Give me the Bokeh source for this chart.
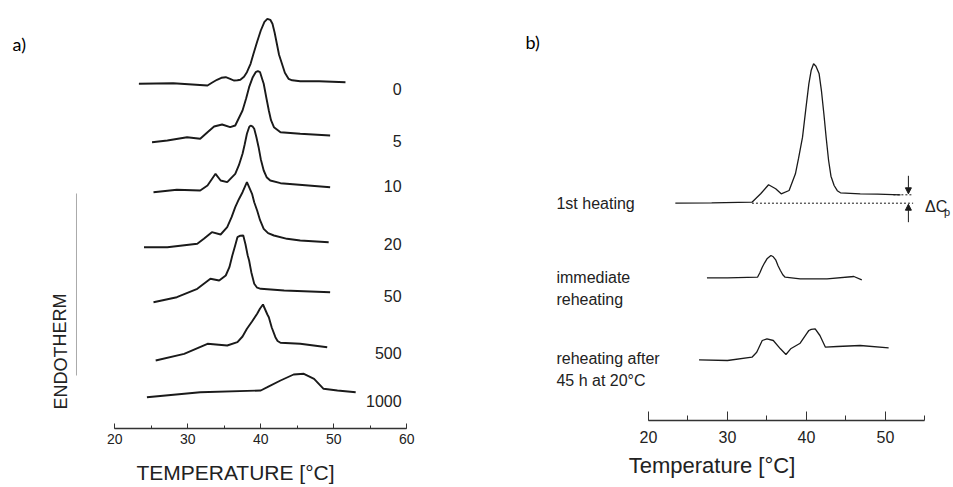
from bokeh.plotting import figure
from bokeh.models import Range1d, Label, Arrow, NormalHead, SingleIntervalTicker
from bokeh.layouts import row
from bokeh.embed import file_html
from bokeh.resources import INLINE

# ---------------- panel a data (DSC traces, storage time labels) ----------------
a_names = ["0", "5", "10", "20", "50", "500", "1000"]
a_offsets = [344.7, 286.3, 236.3, 181.3, 126.3, 68.0, 31.3]
a_label_y = [339.5, 288.0, 243.0, 185.0, 133.0, 76.0, 28.0]

a_T0 = [23.3, 28.0, 32.7, 33.3, 34.0, 34.6, 35.2, 35.8, 36.3, 36.8, 37.2, 37.7, 38.1, 38.6, 39.0, 39.5,
        40.0, 40.5, 40.9, 41.3, 41.6, 41.9, 42.2, 42.5, 42.9, 43.3, 43.8, 44.3, 45.4, 48.0, 51.6]
a_S0 = [0, 0.5, -1.7, 1.0, 4.0, 6.0, 6.6, 5.0, 3.3, 3.5, 4.0, 7.0, 11.6, 20.0, 30.0, 42.0,
        53.3, 62.0, 65.0, 64.0, 60.0, 51.0, 40.0, 29.0, 20.0, 11.0, 5.0, 3.5, 2.6, 2.5, 1.6]

a_T5 = [25.1, 27.2, 29.9, 31.7, 32.7, 33.6, 34.7, 35.8, 36.5, 37.5, 38.0, 38.4, 38.9, 39.3, 39.6, 39.9,
        40.2, 40.4, 40.8, 41.1, 41.4, 41.8, 42.7, 45.4, 49.5]
a_S5 = [0, 1.7, 5.0, 3.4, 10.0, 15.7, 17.7, 15.0, 16.7, 31.7, 44.0, 55.0, 65.0, 70.0, 71.0, 70.0,
        63.0, 58.4, 43.0, 31.7, 22.0, 15.0, 10.0, 8.4, 6.7]

a_T10 = [25.3, 28.5, 31.7, 32.7, 33.8, 34.5, 35.4, 36.5, 37.0, 37.5, 37.8, 38.1, 38.4, 38.6, 38.9, 39.1,
         39.4, 39.7, 40.0, 40.4, 40.8, 41.3, 42.7, 49.5]
a_S10 = [0, 2.4, 1.7, 6.7, 18.4, 11.7, 10.0, 18.4, 27.0, 38.4, 48.0, 58.4, 65.0, 66.7, 65.5, 63.4,
         55.0, 45.0, 33.0, 21.7, 15.0, 11.7, 9.0, 5.0]

a_T20 = [24.0, 27.2, 31.3, 32.2, 33.3, 34.5, 35.4, 36.0, 36.5, 37.0, 37.5, 37.8, 38.1, 38.4, 38.8, 39.1,
         39.5, 39.9, 40.4, 41.0, 41.8, 43.6, 45.4, 49.3]
a_S20 = [0, 0, 3.4, 8.4, 15.0, 12.7, 20.0, 30.0, 40.0, 48.0, 55.0, 60.0, 65.0, 60.0, 53.4, 45.0,
         36.7, 27.0, 18.4, 14.0, 11.7, 8.4, 6.7, 5.0]

a_T50 = [25.3, 28.5, 31.3, 33.1, 34.3, 35.2, 35.7, 36.1, 36.5, 36.8, 37.2, 37.6, 37.9, 38.2, 38.4, 38.7,
         39.1, 39.5, 40.0, 43.2, 49.5]
a_S50 = [0, 5.0, 13.4, 23.4, 21.7, 26.7, 35.0, 46.7, 57.0, 65.0, 66.5, 66.7, 58.0, 47.0, 41.7, 30.0,
         18.4, 14.5, 13.4, 11.7, 10.0]

a_T500 = [25.6, 29.5, 32.7, 35.4, 36.8, 37.5, 38.1, 38.8, 39.5, 39.9, 40.3, 40.6, 40.9, 41.1, 41.5, 42.0,
          42.3, 42.7, 45.4, 49.1]
a_S500 = [0, 6.7, 16.7, 15.0, 18.3, 24.0, 31.7, 39.0, 46.7, 52.0, 56.0, 51.0, 46.0, 43.3, 33.0, 23.3,
          19.5, 17.7, 16.7, 13.3]

a_T1000 = [24.4, 31.7, 40.0, 40.9, 42.7, 44.5, 45.9, 47.3, 48.6, 50.5, 53.0]
a_S1000 = [0, 5.0, 6.7, 10.0, 16.7, 22.7, 23.4, 18.4, 8.4, 6.7, 5.0]

a_T = [a_T0, a_T5, a_T10, a_T20, a_T50, a_T500, a_T1000]
a_S = [a_S0, a_S5, a_S10, a_S20, a_S50, a_S500, a_S1000]

# ---------------- panel b data ----------------
b_names = [["1st heating"], ["immediate", "reheating"], ["reheating after", "45 h at 20\u00b0C"]]
b_offsets = [217.3, 142.7, 60.7]
b_label_y = [[217.0], [143.0, 121.0], [62.0, 40.0]]

b_T1 = [23.4, 28.0, 33.1, 34.2, 35.2, 36.1, 36.8, 37.8, 38.6, 39.0, 39.5, 39.9, 40.3, 40.6, 40.9, 41.2,
        41.6, 41.9, 42.2, 42.5, 42.8, 43.1, 43.5, 43.9, 44.3, 46.8, 49.0, 51.9]
b_S1 = [0, 0.3, 1.0, 9.4, 18.4, 14.4, 9.4, 12.7, 29.4, 45.0, 66.0, 93.0, 119.4, 133.0, 139.4, 137.0,
        129.4, 112.0, 89.4, 65.0, 42.7, 27.0, 17.7, 12.5, 10.4, 9.4, 9.0, 8.4]

b_T2 = [27.4, 30.0, 33.8, 34.1, 34.4, 34.7, 35.0, 35.5, 35.8, 36.1, 36.4, 36.7, 37.0, 37.3, 39.2, 42.6,
        46.0, 47.0]
b_S2 = [0, 0, 0.6, 5.0, 10.6, 15.0, 19.0, 22.3, 21.0, 18.0, 12.0, 7.3, 3.0, 0.6, -1.0, -1.0,
        1.3, -2.0]

b_T3 = [26.4, 30.0, 33.1, 33.7, 34.4, 35.0, 35.8, 36.7, 37.4, 38.0, 39.2, 40.0, 40.3, 40.6, 41.1, 41.7,
        42.4, 43.9, 46.8, 50.4]
b_S3 = [0, -0.7, 2.6, 7.6, 19.3, 21.0, 19.3, 11.0, 5.3, 11.0, 16.6, 26.0, 29.3, 30.5, 31.0, 24.3,
        12.6, 13.3, 14.3, 12.0]

b_T = [b_T1, b_T2, b_T3]
b_S = [b_S1, b_S2, b_S3]

# Delta Cp construction (temperatures)
dcp_line_T = [33.1, 53.5]
dcp_top_T = [51.0, 53.5]
dcp_arrow_T = 52.9

a_ticks = [20, 30, 40, 50, 60]
b_ticks = [20, 30, 40, 50]

FONT = "Liberation Sans"
INK = "#1a1a1a"


def base_fig(fw, fh, xr, yr, bottom):
    p = figure(frame_width=fw, frame_height=fh, x_range=xr, y_range=yr,
               output_backend="svg", toolbar_location=None, y_axis_location=None,
               min_border_left=0, min_border_right=0, min_border_top=0,
               min_border_bottom=bottom, title=None)
    p.grid.visible = False
    p.outline_line_color = None
    p.background_fill_color = "white"
    p.border_fill_color = "white"
    return p


def style_axis(ax, bounds, tick_len, minor_len, font_size, standoff, label, label_size, label_standoff):
    ax.ticker = SingleIntervalTicker(interval=10, num_minor_ticks=2)
    ax.bounds = bounds
    ax.major_tick_in = tick_len
    ax.major_tick_out = 0
    ax.minor_tick_in = minor_len
    ax.minor_tick_out = 0
    ax.axis_line_color = "#333333"
    ax.axis_line_width = 1.3
    ax.major_tick_line_color = "#333333"
    ax.minor_tick_line_color = "#333333"
    ax.major_label_text_font = FONT
    ax.major_label_text_font_size = font_size
    ax.major_label_text_color = "#222222"
    ax.major_label_standoff = standoff
    ax.axis_label = label
    ax.axis_label_text_font = FONT
    ax.axis_label_text_font_size = label_size
    ax.axis_label_text_font_style = "normal"
    ax.axis_label_text_color = "#222222"
    ax.axis_label_standoff = label_standoff


# ---------------- panel a ----------------
pa = base_fig(470, 428, Range1d(4.34, 68.73), Range1d(0, 428), 59)
style_axis(pa.xaxis[0], (a_ticks[0], a_ticks[-1]), 5, 3, "14px", 5, "TEMPERATURE [\u00b0C]", "21px", 14)

for name, T, S, off, ly in zip(a_names, a_T, a_S, a_offsets, a_label_y):
    pa.line(T, [off + s for s in S], line_color=INK, line_width=1.9)
    pa.add_layout(Label(x=59.3, y=ly, text=name, text_align="right", text_baseline="middle",
                        text_font=FONT, text_font_size="16px", text_color="#222222"))

pa.line([14.75, 14.75], [53, 235], line_color="#aaaaaa", line_width=1)
pa.add_layout(Label(x=12.56, y=77, text="ENDOTHERM", angle=1.5708, text_align="center",
                    text_baseline="middle", text_font=FONT, text_font_size="18px",
                    text_color="#222222"))
pa.add_layout(Label(x=5.99, y=385, text="a)", text_font="Lato", text_font_size="18px",
                    text_color="#000000", text_baseline="alphabetic"))

# ---------------- panel b ----------------
pb = base_fig(483, 420, Range1d(-2.53, 58.61), Range1d(0, 420), 67)
style_axis(pb.xaxis[0], (20, 55), 9, 5, "16px", 10, "Temperature [\u00b0C]", "22px", 7)

for names, T, S, off, lys in zip(b_names, b_T, b_S, b_offsets, b_label_y):
    pb.line(T, [off + s for s in S], line_color=INK, line_width=1.3)
    for nm, ly in zip(names, lys):
        pb.add_layout(Label(x=8.35, y=ly, text=nm, text_align="left", text_baseline="middle",
                            text_font=FONT, text_font_size="16px", text_color="#222222"))

base1 = b_offsets[0]
top1 = b_offsets[0] + b_S1[-1]
pb.line(dcp_line_T, [base1, base1], line_color=INK, line_width=1, line_dash="2 2")
pb.line(dcp_top_T, [top1, top1], line_color=INK, line_width=1, line_dash="2 2")
pb.add_layout(Arrow(end=NormalHead(size=6, fill_color=INK, line_color=INK),
                    x_start=dcp_arrow_T, y_start=top1 + 19, x_end=dcp_arrow_T, y_end=top1 + 1,
                    line_color=INK, line_width=1))
pb.add_layout(Arrow(end=NormalHead(size=6, fill_color=INK, line_color=INK),
                    x_start=dcp_arrow_T, y_start=base1 - 19, x_end=dcp_arrow_T, y_end=base1 - 1,
                    line_color=INK, line_width=1))
pb.add_layout(Label(x=55.0, y=base1 - 3, text="\u0394C", text_baseline="middle",
                    text_font=FONT, text_font_size="16px", text_color="#222222"))
pb.add_layout(Label(x=57.4, y=base1 - 9, text="p", text_baseline="middle",
                    text_font=FONT, text_font_size="11px", text_color="#222222"))
pb.add_layout(Label(x=4.43, y=379, text="b)", text_font="Lato", text_font_size="18px",
                    text_color="#000000", text_baseline="alphabetic"))

layout = row(pa, pb, spacing=0)
open("out.html", "w").write(file_html(layout, INLINE))
